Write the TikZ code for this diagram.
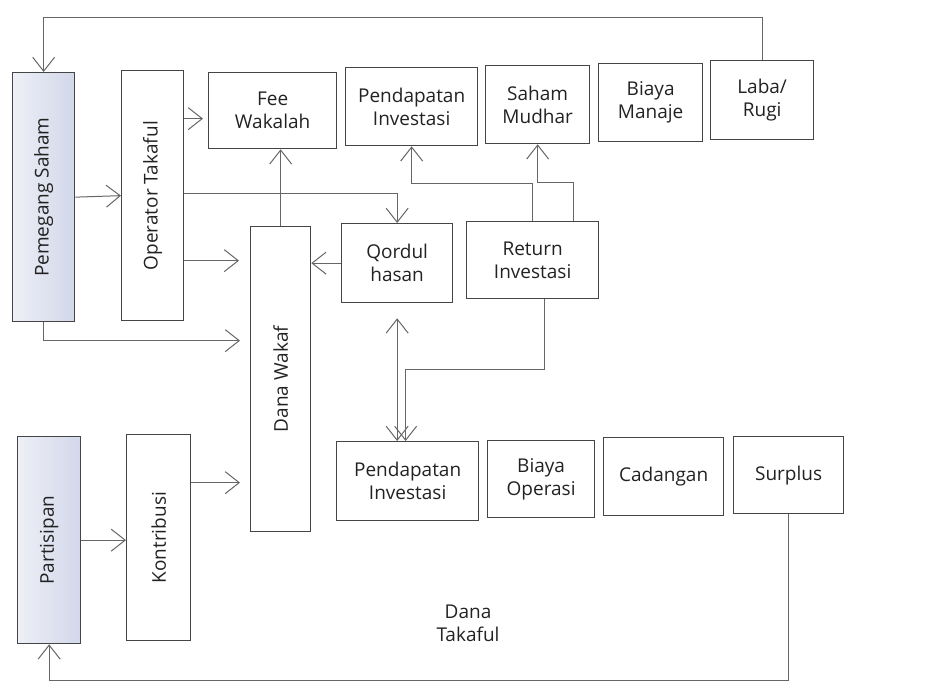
\documentclass[tikz,border=0pt]{standalone}
\usepackage{fontspec}
\setmainfont{Open Sans}
\usetikzlibrary{arrows.meta,calc}
\definecolor{ink}{HTML}{222222}
\definecolor{boxline}{HTML}{454545}
\definecolor{wire}{HTML}{666666}
\definecolor{shadeL}{HTML}{EEF0F6}
\definecolor{shadeR}{HTML}{D2D7EA}
\begin{document}
\begin{tikzpicture}[x=1pt,y=-1pt,
  txt/.style={text=ink, font=\fontsize{19}{23}\selectfont, align=center},
  box/.style={draw=boxline, line width=1.3pt, inner sep=0pt, anchor=north west, txt},
  shaded/.style={left color=shadeL, right color=shadeR},
  vlabel/.style={label={[rotate=90, txt]center:#1}},
  barb/.tip={Straight Barb[length=14pt,width=22pt,line width=1pt]},
  flow/.style={draw=wire, line width=1pt, -barb},
  flow2/.style={draw=wire, line width=1pt, barb-barb}
]
\useasboundingbox (0,0) rectangle (938,685);

% left column: shareholders and operator
\node[box, shaded, minimum width=62, minimum height=249, vlabel={Pemegang Saham}] (pemegang) at (12,72) {};
\node[box, minimum width=62, minimum height=250, vlabel={Operator Takaful}] (operator) at (121,70) {};

% top row: operator fund accounts
\node[box, minimum width=128, minimum height=76] (fee) at (208,72) {Fee\\Wakalah};
\node[box, minimum width=132, minimum height=78] (pendtop) at (345,67) {Pendapatan\\Investasi};
\node[box, minimum width=104, minimum height=78] (saham) at (485,65) {Saham\\Mudhar};
\node[box, minimum width=104, minimum height=78] (biaya) at (598,63) {Biaya\\Manaje};
\node[box, minimum width=103, minimum height=79] (laba) at (710,60) {Laba/\\Rugi};

% middle: loan and investment return
\node[box, minimum width=111, minimum height=79] (qordul) at (341,223) {Qordul\\hasan};
\node[box, minimum width=132, minimum height=77] (return) at (466,221) {Return\\Investasi};
\node[box, minimum width=60, minimum height=305, vlabel={Dana Wakaf}] (wakaf) at (250,226) {};

% participants side
\node[box, shaded, minimum width=63, minimum height=207, vlabel={Partisipan}] (partisipan) at (17,436) {};
\node[box, minimum width=64, minimum height=206, vlabel={Kontribusi}] (kontribusi) at (126,434) {};

% bottom row: takaful fund accounts
\node[box, minimum width=142, minimum height=79] (pendbot) at (336,441) {Pendapatan\\Investasi};
\node[box, minimum width=107, minimum height=77] (operasi) at (487,440) {Biaya\\Operasi};
\node[box, minimum width=120, minimum height=78] (cadangan) at (603,437) {Cadangan};
\node[box, minimum width=110, minimum height=77] (surplus) at (733,436) {Surplus};

\node[txt] (danatakaful) at (468,623) {Dana\\Takaful};

% connectors
\draw[flow] (laba.north) -- ++(0,-42) -| (pemegang.north);
\draw[flow] (pemegang.east) -- (operator.west);
\draw[flow, shorten >=10pt] (pemegang.south) |- ([yshift=38.5]wakaf.west);
\draw[flow, shorten >=5pt] ([yshift=77]operator.east) -- ([yshift=77]operator.east -| fee.west);
\draw[flow] ([yshift=2]operator.east) -| (qordul.north);
\draw[flow, shorten >=11pt] ([yshift=-65]operator.east) -- ([yshift=-65]operator.east -| wakaf.west);
\draw[flow] (wakaf.north) -- (wakaf.north |- fee.south);
\draw[flow] (qordul.west) -- (qordul.west -| wakaf.east);
\draw[flow] (return.north) -- ++(0,-38) -| (pendtop.south);
\draw[flow] ([xshift=41]return.north) -- ++(0,-39) -| (saham.south);
\draw[flow2, shorten <=15pt] (qordul.south) -- (qordul.south |- pendbot.north);
\draw[flow] ([xshift=12]return.south) -- ++(0,70) -| ([xshift=-2]pendbot.north);
\draw[flow, shorten >=10pt] ([yshift=55]kontribusi.east) -- ([yshift=55]kontribusi.east -| wakaf.west);
\draw[flow] (partisipan.east) -- (partisipan.east -| kontribusi.west);
\draw[flow] (surplus.south) -- ++(0,166) -| (partisipan.south);
\end{tikzpicture}
\end{document}
